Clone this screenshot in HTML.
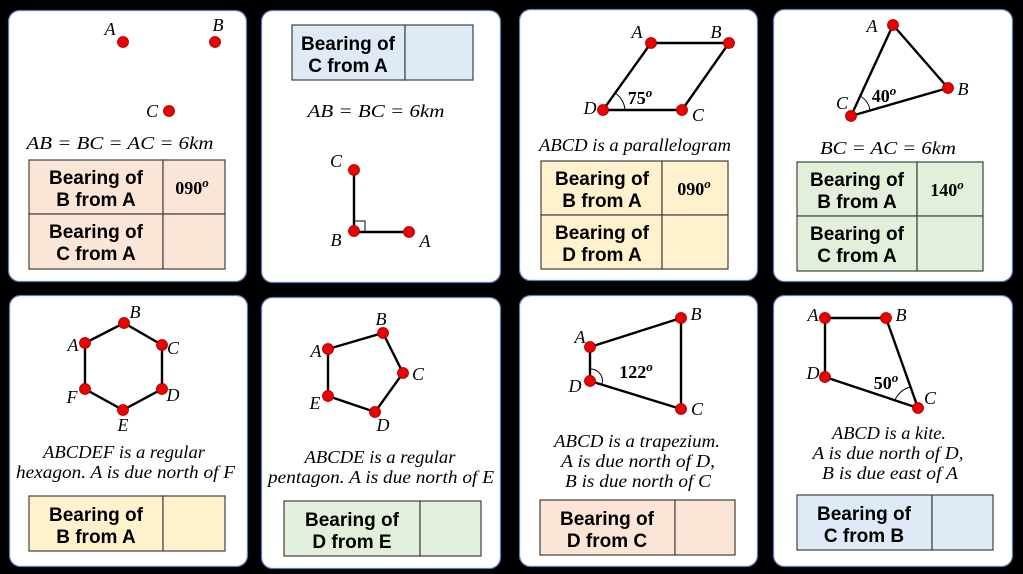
<!DOCTYPE html>
<html><head><meta charset="utf-8"><style>
html,body{margin:0;padding:0;background:#000;}
svg{display:block}
.card{fill:#fff;stroke:#5b7bb5;stroke-width:1.2}
.t{font-family:"Liberation Sans",sans-serif;font-weight:bold;font-size:19px;fill:#000;text-anchor:middle}
.m{font-family:"Liberation Serif",serif;font-style:italic;font-size:18px;fill:#000;text-anchor:middle}
.l{font-family:"Liberation Serif",serif;font-style:italic;font-size:18px;fill:#000;text-anchor:middle}
.v{font-family:"Liberation Serif",serif;font-weight:bold;font-size:18px;fill:#000;text-anchor:middle}
.cell{stroke:#404040;stroke-width:1.2}
.ln{stroke:#000;stroke-width:2.4;fill:none}
.p{fill:#e00;stroke:#900;stroke-width:0.8}
</style></head><body>
<svg width="1023" height="574" viewBox="0 0 1023 574" xmlns="http://www.w3.org/2000/svg">
<rect x="0" y="0" width="1023" height="574" fill="#000"/>
<rect class="card" x="8.5" y="10.5" width="238" height="271" rx="11"/>
<rect class="card" x="261.5" y="10.5" width="239" height="272" rx="11"/>
<rect class="card" x="519.5" y="9.5" width="238" height="271" rx="11"/>
<rect class="card" x="773.5" y="9.5" width="239" height="272" rx="11"/>
<rect class="card" x="9.5" y="295.5" width="238" height="271" rx="11"/>
<rect class="card" x="261.5" y="297.5" width="239" height="271" rx="11"/>
<rect class="card" x="519.5" y="295.5" width="238" height="271" rx="11"/>
<rect class="card" x="773.5" y="295.5" width="239" height="271" rx="11"/>

<!-- Card 1 -->
<circle class="p" cx="123" cy="42" r="5.5"/><circle class="p" cx="215" cy="42" r="5.5"/><circle class="p" cx="169" cy="111" r="5.5"/>
<text class="l" x="110" y="35">A</text><text class="l" x="218" y="31">B</text><text class="l" x="152" y="117">C</text>
<text class="m" x="120" y="149" textLength="187" lengthAdjust="spacingAndGlyphs">AB = BC = AC = 6km</text>
<g class="cell" fill="#fbe5d6"><rect x="29" y="160" width="134" height="54"/><rect x="163" y="160" width="62" height="54"/><rect x="29" y="214" width="134" height="55"/><rect x="163" y="214" width="62" height="55"/></g>
<text class="t" x="96" y="184">Bearing of</text><text class="t" x="96" y="206">B from A</text>
<text class="t" x="96" y="238">Bearing of</text><text class="t" x="96" y="260">C from A</text>
<text class="v" x="192" y="194">090<tspan font-style="italic" font-size="13" dy="-7">o</tspan></text>

<!-- Card 2 -->
<g class="cell" fill="#deebf7"><rect x="292" y="25" width="113" height="55"/><rect x="405" y="25" width="68" height="55"/></g>
<text class="t" x="348" y="50">Bearing of</text><text class="t" x="348" y="72">C from A</text>
<text class="m" x="376" y="117" textLength="137" lengthAdjust="spacingAndGlyphs">AB = BC = 6km</text>
<polyline class="ln" points="354,170 354,232 409,232"/>
<rect x="354" y="221" width="11" height="11" fill="none" stroke="#000" stroke-width="1"/>
<circle class="p" cx="354" cy="170" r="5.5"/><circle class="p" cx="354" cy="231" r="5.5"/><circle class="p" cx="409" cy="232" r="5.5"/>
<text class="l" x="336" y="167">C</text><text class="l" x="336" y="246">B</text><text class="l" x="425" y="247">A</text>

<!-- Card 3 -->
<polygon class="ln" points="651,43 729,43 682,110 603,110"/>
<path d="M625,110 A22,22 0 0 0 615,93" fill="none" stroke="#000" stroke-width="1"/>
<circle class="p" cx="651" cy="43" r="5.5"/><circle class="p" cx="729" cy="43" r="5.5"/><circle class="p" cx="682" cy="110" r="5.5"/><circle class="p" cx="603" cy="110" r="5.5"/>
<text class="l" x="637" y="38">A</text><text class="l" x="716" y="38">B</text><text class="l" x="590" y="114">D</text><text class="l" x="698" y="121">C</text>
<text class="v" x="640" y="104">75<tspan font-style="italic" font-size="13" dy="-7">o</tspan></text>
<text class="m" x="635" y="151" textLength="192" lengthAdjust="spacingAndGlyphs">ABCD is a parallelogram</text>
<g class="cell" fill="#fff2cc"><rect x="541" y="161" width="121" height="54"/><rect x="662" y="161" width="66" height="54"/><rect x="541" y="215" width="121" height="54"/><rect x="662" y="215" width="66" height="54"/></g>
<text class="t" x="602" y="185">Bearing of</text><text class="t" x="602" y="207">B from A</text>
<text class="t" x="602" y="239">Bearing of</text><text class="t" x="602" y="261">D from A</text>
<text class="v" x="694" y="195">090<tspan font-style="italic" font-size="13" dy="-7">o</tspan></text>

<!-- Card 4 -->
<polygon class="ln" points="893,25 948,88 851,116"/>
<path d="M870,110 A20,20 0 0 0 860,96" fill="none" stroke="#000" stroke-width="1"/>
<circle class="p" cx="893" cy="25" r="5.5"/><circle class="p" cx="948" cy="88" r="5.5"/><circle class="p" cx="851" cy="116" r="5.5"/>
<text class="l" x="872" y="32">A</text><text class="l" x="963" y="95">B</text><text class="l" x="842" y="109">C</text>
<text class="v" x="884" y="102">40<tspan font-style="italic" font-size="13" dy="-7">o</tspan></text>
<text class="m" x="888" y="154" textLength="136" lengthAdjust="spacingAndGlyphs">BC = AC = 6km</text>
<g class="cell" fill="#e2efda"><rect x="797" y="162" width="120" height="54"/><rect x="917" y="162" width="66" height="54"/><rect x="797" y="216" width="120" height="55"/><rect x="917" y="216" width="66" height="55"/></g>
<text class="t" x="857" y="186">Bearing of</text><text class="t" x="857" y="208">B from A</text>
<text class="t" x="857" y="240">Bearing of</text><text class="t" x="857" y="262">C from A</text>
<text class="v" x="947" y="196">140<tspan font-style="italic" font-size="13" dy="-7">o</tspan></text>

<!-- Card 5 -->
<polygon class="ln" points="124,323 162,345 162,389 123,410 85,389 85,343"/>
<circle class="p" cx="124" cy="323" r="5.5"/><circle class="p" cx="162" cy="345" r="5.5"/><circle class="p" cx="162" cy="389" r="5.5"/><circle class="p" cx="123" cy="410" r="5.5"/><circle class="p" cx="85" cy="389" r="5.5"/><circle class="p" cx="85" cy="343" r="5.5"/>
<text class="l" x="135" y="318">B</text><text class="l" x="173" y="354">C</text><text class="l" x="173" y="401">D</text><text class="l" x="123" y="431">E</text><text class="l" x="72" y="403">F</text><text class="l" x="73" y="351">A</text>
<text class="m" x="124" y="458" textLength="162" lengthAdjust="spacingAndGlyphs">ABCDEF is a regular</text>
<text class="m" x="125.5" y="478" textLength="219" lengthAdjust="spacingAndGlyphs">hexagon. A is due north of F</text>
<g class="cell" fill="#fff2cc"><rect x="29" y="496" width="134" height="55"/><rect x="163" y="496" width="62" height="55"/></g>
<text class="t" x="96" y="521">Bearing of</text><text class="t" x="96" y="543">B from A</text>

<!-- Card 6 -->
<polygon class="ln" points="328,349 383,333 403,373 375,412 328,396"/>
<circle class="p" cx="328" cy="349" r="5.5"/><circle class="p" cx="383" cy="333" r="5.5"/><circle class="p" cx="403" cy="373" r="5.5"/><circle class="p" cx="375" cy="412" r="5.5"/><circle class="p" cx="328" cy="396" r="5.5"/>
<text class="l" x="381" y="325">B</text><text class="l" x="418" y="380">C</text><text class="l" x="383" y="431">D</text><text class="l" x="315" y="409">E</text><text class="l" x="316" y="357">A</text>
<text class="m" x="380" y="463" textLength="151" lengthAdjust="spacingAndGlyphs">ABCDE is a regular</text>
<text class="m" x="381" y="483" textLength="226" lengthAdjust="spacingAndGlyphs">pentagon. A is due north of E</text>
<g class="cell" fill="#e2efda"><rect x="284" y="501" width="136" height="55"/><rect x="420" y="501" width="61" height="55"/></g>
<text class="t" x="352" y="526">Bearing of</text><text class="t" x="352" y="548">D from E</text>

<!-- Card 7 -->
<polygon class="ln" points="590,347 681,318 681,409 590,381"/>
<path d="M590,369 A12,12 0 0 1 602,384" fill="none" stroke="#000" stroke-width="1"/>
<circle class="p" cx="590" cy="347" r="5.5"/><circle class="p" cx="681" cy="318" r="5.5"/><circle class="p" cx="681" cy="409" r="5.5"/><circle class="p" cx="590" cy="381" r="5.5"/>
<text class="l" x="580" y="343">A</text><text class="l" x="696" y="320">B</text><text class="l" x="697" y="415">C</text><text class="l" x="575" y="392">D</text>
<text class="v" x="636" y="378">122<tspan font-style="italic" font-size="13" dy="-7">o</tspan></text>
<text class="m" x="637" y="447" textLength="166" lengthAdjust="spacingAndGlyphs">ABCD is a trapezium.</text>
<text class="m" x="638" y="467" textLength="154" lengthAdjust="spacingAndGlyphs">A is due north of D,</text>
<text class="m" x="638" y="487" textLength="146" lengthAdjust="spacingAndGlyphs">B is due north of C</text>
<g class="cell" fill="#fbe5d6"><rect x="540" y="500" width="135" height="55"/><rect x="675" y="500" width="60" height="55"/></g>
<text class="t" x="607" y="525">Bearing of</text><text class="t" x="607" y="547">D from C</text>

<!-- Card 8 -->
<polygon class="ln" points="825,318 886,318 918,408 825,377"/>
<path d="M895,400 A24,24 0 0 1 910,387" fill="none" stroke="#000" stroke-width="1"/>
<circle class="p" cx="825" cy="318" r="5.5"/><circle class="p" cx="886" cy="318" r="5.5"/><circle class="p" cx="918" cy="408" r="5.5"/><circle class="p" cx="825" cy="377" r="5.5"/>
<text class="l" x="813" y="321">A</text><text class="l" x="901" y="321">B</text><text class="l" x="930" y="404">C</text><text class="l" x="813" y="379">D</text>
<text class="v" x="886" y="389">50<tspan font-style="italic" font-size="13" dy="-7">o</tspan></text>
<text class="m" x="889" y="439" textLength="114" lengthAdjust="spacingAndGlyphs">ABCD is a kite.</text>
<text class="m" x="888" y="459" textLength="151" lengthAdjust="spacingAndGlyphs">A is due north of D,</text>
<text class="m" x="890" y="479" textLength="136" lengthAdjust="spacingAndGlyphs">B is due east of A</text>
<g class="cell" fill="#deebf7"><rect x="797" y="495" width="135" height="55"/><rect x="932" y="495" width="61" height="55"/></g>
<text class="t" x="864" y="520">Bearing of</text><text class="t" x="864" y="542">C from B</text>
</svg>
</body></html>
